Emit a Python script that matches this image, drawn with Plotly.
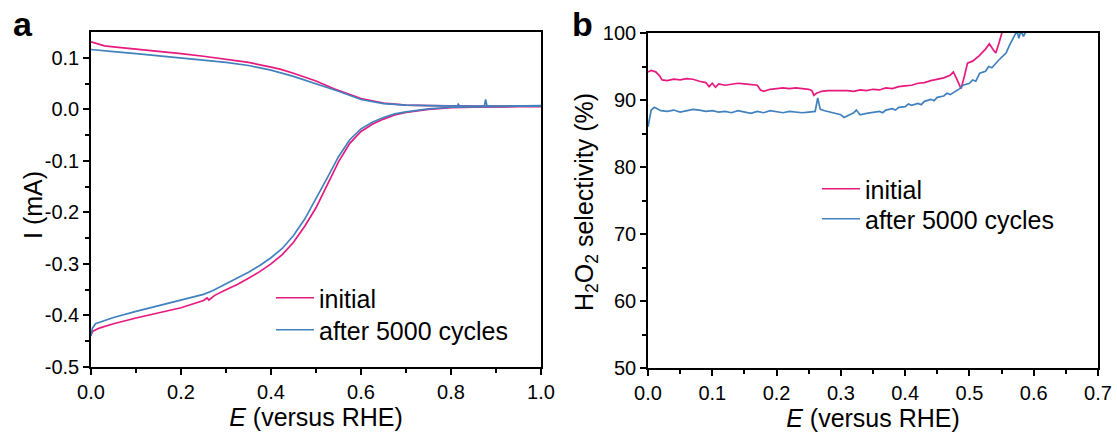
import plotly.graph_objects as go

# ---------------- Panel a data (E in V vs RHE, current in mA) ----------------
E_ring_init = [0.000, 0.010, 0.030, 0.050, 0.100, 0.150, 0.200, 0.250, 0.300, 0.350,
               0.400, 0.420, 0.450, 0.487, 0.500, 0.540, 0.550, 0.600, 0.650, 0.700,
               0.750, 0.800, 0.850, 0.900, 0.950, 1.000]
I_ring_init = [0.131, 0.128, 0.123, 0.121, 0.117, 0.113, 0.108, 0.103, 0.097, 0.091,
               0.082, 0.078, 0.070, 0.059, 0.055, 0.040, 0.037, 0.021, 0.012, 0.008,
               0.007, 0.006, 0.006, 0.006, 0.006, 0.006]

E_ring_after = [0.000, 0.020, 0.050, 0.100, 0.150, 0.200, 0.250, 0.300, 0.350, 0.400,
                0.450, 0.500, 0.550, 0.600, 0.650, 0.700, 0.750, 0.800, 0.814, 0.816,
                0.820, 0.850, 0.874, 0.877, 0.880, 0.900, 0.950, 1.000]
I_ring_after = [0.116, 0.114, 0.112, 0.108, 0.104, 0.100, 0.096, 0.091, 0.085, 0.076,
                0.064, 0.050, 0.035, 0.019, 0.011, 0.008, 0.007, 0.006, 0.006, 0.010,
                0.006, 0.006, 0.006, 0.019, 0.006, 0.006, 0.006, 0.007]

E_disk_init = [0.000, 0.005, 0.020, 0.050, 0.100, 0.150, 0.200, 0.250, 0.258, 0.262,
               0.275, 0.300, 0.325, 0.350, 0.375, 0.400, 0.425, 0.450, 0.475, 0.500,
               0.525, 0.550, 0.575, 0.600, 0.625, 0.650, 0.675, 0.700, 0.750, 0.800,
               0.850, 0.900, 0.950, 1.000]
I_disk_init = [-0.437, -0.430, -0.424, -0.416, -0.405, -0.395, -0.385, -0.371, -0.366, -0.370,
               -0.361, -0.350, -0.340, -0.328, -0.315, -0.300, -0.282, -0.258, -0.227, -0.191,
               -0.148, -0.102, -0.066, -0.043, -0.029, -0.019, -0.011, -0.006, 0.000, 0.003,
               0.004, 0.005, 0.005, 0.005]

E_disk_after = [0.000, 0.003, 0.010, 0.050, 0.100, 0.150, 0.200, 0.250, 0.270, 0.300,
                0.325, 0.350, 0.375, 0.400, 0.425, 0.450, 0.475, 0.500, 0.525, 0.550,
                0.575, 0.600, 0.625, 0.650, 0.675, 0.700, 0.750, 0.800, 0.850, 0.900,
                0.950, 1.000]
I_disk_after = [-0.440, -0.425, -0.416, -0.404, -0.392, -0.381, -0.370, -0.359, -0.352, -0.339,
                -0.328, -0.316, -0.303, -0.288, -0.270, -0.245, -0.213, -0.174, -0.133, -0.092,
                -0.059, -0.038, -0.025, -0.016, -0.009, -0.005, 0.001, 0.004, 0.005, 0.006,
                0.006, 0.006]

# ---------------- Panel b data (E in V vs RHE, H2O2 selectivity in %) ----------------
E_sel_init = [0.000, 0.005, 0.012, 0.018, 0.022, 0.030, 0.040, 0.050, 0.060, 0.070,
              0.080, 0.090, 0.095, 0.100, 0.105, 0.110, 0.120, 0.130, 0.140, 0.150,
              0.160, 0.170, 0.175, 0.180, 0.190, 0.200, 0.210, 0.220, 0.230, 0.240,
              0.250, 0.255, 0.258, 0.262, 0.270, 0.280, 0.290, 0.300, 0.310, 0.320,
              0.330, 0.340, 0.350, 0.360, 0.370, 0.380, 0.390, 0.400, 0.410, 0.420,
              0.430, 0.440, 0.450, 0.460, 0.470, 0.475, 0.480, 0.487, 0.492, 0.497,
              0.505, 0.515, 0.525, 0.531, 0.537, 0.541, 0.546, 0.551]
S_init = [94.2, 94.4, 94.2, 93.6, 93.0, 92.9, 93.1, 93.0, 93.2, 93.1,
          92.8, 92.6, 92.0, 92.5, 91.9, 92.4, 92.2, 92.4, 92.5, 92.4,
          92.3, 92.2, 91.5, 91.3, 91.6, 91.7, 91.8, 91.7, 91.8, 91.7,
          91.6, 91.4, 90.7, 91.0, 91.3, 91.4, 91.4, 91.5, 91.4, 91.3,
          91.5, 91.4, 91.6, 91.5, 91.8, 91.7, 92.0, 92.1, 92.2, 92.5,
          92.6, 92.9, 93.1, 93.3, 93.7, 94.2, 93.2, 91.7, 93.5, 95.5,
          95.8, 96.6, 97.6, 98.4, 97.5, 97.0, 98.5, 100.2]

E_sel_after = [0.000, 0.002, 0.005, 0.010, 0.015, 0.020, 0.030, 0.040, 0.050, 0.060,
               0.070, 0.080, 0.090, 0.100, 0.110, 0.120, 0.130, 0.140, 0.150, 0.160,
               0.170, 0.180, 0.190, 0.200, 0.210, 0.220, 0.230, 0.240, 0.250, 0.260,
               0.264, 0.268, 0.275, 0.280, 0.290, 0.300, 0.305, 0.310, 0.315, 0.320,
               0.324, 0.330, 0.340, 0.350, 0.360, 0.365, 0.370, 0.380, 0.385, 0.390,
               0.400, 0.405, 0.410, 0.420, 0.425, 0.430, 0.440, 0.445, 0.450, 0.460,
               0.465, 0.470, 0.480, 0.485, 0.490, 0.500, 0.505, 0.510, 0.516, 0.525,
               0.530, 0.535, 0.545, 0.550, 0.557, 0.563, 0.570, 0.574, 0.577, 0.580,
               0.584, 0.588]
S_after = [86.0, 87.2, 88.5, 88.9, 88.7, 88.4, 88.3, 88.5, 88.2, 88.4,
           88.6, 88.5, 88.3, 88.4, 88.2, 88.3, 88.1, 88.4, 88.2, 88.0,
           88.3, 88.1, 88.4, 88.2, 88.1, 88.3, 88.2, 88.1, 88.2, 88.3,
           90.3, 88.6, 88.4, 88.3, 88.0, 87.8, 87.4, 87.6, 87.9, 88.1,
           88.5, 87.8, 88.0, 88.2, 88.3, 88.1, 88.5, 88.7, 88.5, 88.9,
           89.0, 89.4, 89.2, 89.5, 89.3, 89.8, 90.1, 89.9, 90.4, 90.6,
           91.0, 90.8, 91.4, 91.7, 92.2, 92.5, 93.0, 92.8, 94.0, 94.3,
           95.0, 94.8, 95.9, 96.4, 97.0, 98.3, 99.6, 100.3, 99.2, 100.4,
           99.5, 100.2]

# ---------------- Tick labels ----------------
ya_vals = [-0.5, -0.4, -0.3, -0.2, -0.1, 0.0, 0.1]
ya_text = ["-0.5", "-0.4", "-0.3", "-0.2", "-0.1", "0.0", "0.1"]
ya_minor = [-0.45, -0.35, -0.25, -0.15, -0.05, 0.05]

series_names = ["initial", "after 5000 cycles"]
PINK = "#E6197F"
BLUE = "#4182BE"
FONT = "Liberation Sans, Arial, sans-serif"
LW = 1.7

fig = go.Figure()
# panel a
fig.add_trace(go.Scatter(x=E_ring_init, y=I_ring_init, mode="lines", line=dict(color=PINK, width=LW),
                         name=series_names[0], legendgroup="a0", showlegend=True, legend="legend",
                         xaxis="x", yaxis="y"))
fig.add_trace(go.Scatter(x=E_disk_init, y=I_disk_init, mode="lines", line=dict(color=PINK, width=LW),
                         name=series_names[0], legendgroup="a0", showlegend=False,
                         xaxis="x", yaxis="y"))
fig.add_trace(go.Scatter(x=E_ring_after, y=I_ring_after, mode="lines", line=dict(color=BLUE, width=LW),
                         name=series_names[1], legendgroup="a1", showlegend=True, legend="legend3",
                         xaxis="x", yaxis="y"))
fig.add_trace(go.Scatter(x=E_disk_after, y=I_disk_after, mode="lines", line=dict(color=BLUE, width=LW),
                         name=series_names[1], legendgroup="a1", showlegend=False,
                         xaxis="x", yaxis="y"))
# panel b
fig.add_trace(go.Scatter(x=E_sel_init, y=S_init, mode="lines", line=dict(color=PINK, width=LW),
                         name=series_names[0], showlegend=True, legend="legend2",
                         xaxis="x2", yaxis="y2"))
fig.add_trace(go.Scatter(x=E_sel_after, y=S_after, mode="lines", line=dict(color=BLUE, width=LW),
                         name=series_names[1], showlegend=True, legend="legend4",
                         xaxis="x2", yaxis="y2"))

axis_common = dict(showline=True, linecolor="black", linewidth=1.6, mirror=True,
                   ticks="outside", ticklen=6, tickwidth=1.5, tickcolor="black",
                   showgrid=False, zeroline=False, automargin=False,
                   tickfont=dict(family=FONT, size=20, color="black"))
title_font = dict(family=FONT, size=25, color="black")
legend_font = dict(family=FONT, size=25, color="black")


def leg(xpx, ypx):
    return dict(x=xpx / 1117, y=1 - ypx / 436, xanchor="left", yanchor="top",
                bgcolor="rgba(0,0,0,0)", font=legend_font, itemwidth=38)


def ytitle(text, xpx, ypx):
    return dict(text=text, x=xpx / 1117, y=1 - ypx / 436, xref="paper", yref="paper",
                xanchor="center", yanchor="middle", textangle=-90, showarrow=False,
                font=title_font)


fig.update_layout(
    width=1117, height=436,
    margin=dict(l=0, r=0, t=0, b=0),
    paper_bgcolor="white", plot_bgcolor="white",
    font=dict(family=FONT, color="black"),
    xaxis=dict(domain=[91/1117, 541/1117], anchor="y", range=[0, 1], dtick=0.2, tick0=0,
               tickformat=".1f",
               minor=dict(dtick=0.1, tick0=0, ticks="outside", ticklen=4, tickwidth=1.5, tickcolor="black"),
               title=dict(text="<i>E</i> (versus RHE)", font=title_font, standoff=7),
               **axis_common),
    yaxis=dict(domain=[1-367/436, 1-32/436], anchor="x", range=[-0.5, 0.15],
               tickmode="array", tickvals=ya_vals, ticktext=ya_text,
               minor=dict(tickmode="array", tickvals=ya_minor, ticks="outside", ticklen=4, tickwidth=1.5, tickcolor="black"),
               **axis_common),
    xaxis2=dict(domain=[648/1117, 1098/1117], anchor="y2", range=[0, 0.7], dtick=0.1, tick0=0,
                tickformat=".1f",
                minor=dict(dtick=0.05, tick0=0, ticks="outside", ticklen=4, tickwidth=1.5, tickcolor="black"),
                title=dict(text="<i>E</i> (versus RHE)", font=title_font, standoff=7),
                **axis_common),
    yaxis2=dict(domain=[1-368/436, 1-33/436], anchor="x2", range=[50, 100], dtick=10, tick0=50,
                minor=dict(dtick=5, tick0=50, ticks="outside", ticklen=4, tickwidth=1.5, tickcolor="black"),
                **axis_common),
    legend=leg(271, 275),
    legend3=leg(271, 307),
    legend2=leg(817, 166),
    legend4=leg(817, 196),
    annotations=[
        ytitle("I (mA)", 33, 205),
        ytitle("H<sub>2</sub>O<sub>2</sub> selectivity (%)", 586, 202),
        dict(text="<b>a</b>", x=11/1117, y=1-45/436, xref="paper", yref="paper",
             xanchor="left", yanchor="bottom", showarrow=False,
             font=dict(family=FONT, size=34, color="black")),
        dict(text="<b>b</b>", x=570/1117, y=1-45/436, xref="paper", yref="paper",
             xanchor="left", yanchor="bottom", showarrow=False,
             font=dict(family=FONT, size=34, color="black")),
    ],
)

fig.write_html("out.html")
